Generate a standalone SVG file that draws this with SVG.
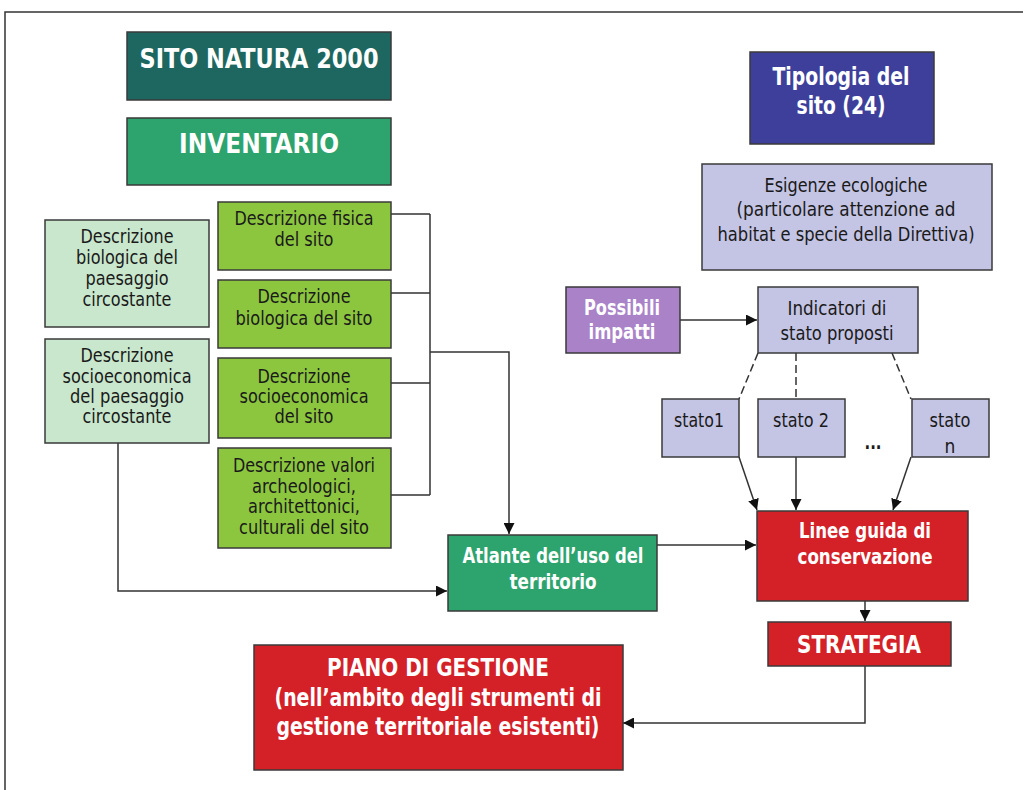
<svg xmlns="http://www.w3.org/2000/svg" width="1023" height="790" viewBox="0 0 1023 790">
<defs>
<style>
.box{stroke:#3a3a3a;stroke-width:1.5}
.t{font-family:"DejaVu Sans Condensed","DejaVu Sans",sans-serif;font-size:19px;fill:#1a1a1a;text-anchor:middle}
.b{font-family:"DejaVu Sans Condensed","DejaVu Sans",sans-serif;font-weight:bold;fill:#ffffff;text-anchor:middle}
.ln{fill:none;stroke:#333333;stroke-width:1.5}
.dash{fill:none;stroke:#333333;stroke-width:1.5;stroke-dasharray:8 4}
</style>
<marker id="arr" viewBox="0 0 10 10" refX="10" refY="5" markerWidth="11" markerHeight="11" markerUnits="userSpaceOnUse" orient="auto">
<path d="M0,0 L10,5 L0,10 z" fill="#111111"/>
</marker>
</defs>
<rect width="1023" height="790" fill="#ffffff"/>
<path d="M5,790 L5,12 L1023,12" fill="none" stroke="#333333" stroke-width="1.5"/>

<g id="connectors">
<path class="ln" d="M391,214 H430 M391,293 H430 M391,383 H430 M391,495 H430 M430,214 V495"/>
<path class="ln" d="M430,352 H509 V534" marker-end="url(#arr)"/>
<path class="ln" d="M118,443 V591 H447" marker-end="url(#arr)"/>
<path class="ln" d="M680,320 H757" marker-end="url(#arr)"/>
<path class="dash" d="M758,353 L739,399"/>
<path class="dash" d="M796,353 V399"/>
<path class="dash" d="M892,353 L911,399"/>
<path class="ln" d="M739,457 L757,510" marker-end="url(#arr)"/>
<path class="ln" d="M796,457 V510" marker-end="url(#arr)"/>
<path class="ln" d="M911,457 L893,510" marker-end="url(#arr)"/>
<path class="ln" d="M657,545 H756" marker-end="url(#arr)"/>
<path class="ln" d="M865,601 V621" marker-end="url(#arr)"/>
<path class="ln" d="M865,666 V723 H623" marker-end="url(#arr)"/>
</g>

<g id="sito">
<rect class="box" x="127" y="32" width="264" height="68" fill="#1d6760"/>
<text class="b" x="259" y="68" font-size="26" textLength="239" lengthAdjust="spacingAndGlyphs">SITO NATURA 2000</text>
</g>
<g id="inventario">
<rect class="box" x="127" y="118" width="264" height="67" fill="#2da36e"/>
<text class="b" x="259" y="153" font-size="26" textLength="160" lengthAdjust="spacingAndGlyphs">INVENTARIO</text>
</g>

<g id="bio-paesaggio">
<rect class="box" x="45" y="220" width="164" height="107" fill="#c9e7cd"/>
<text class="t" x="127" y="243" textLength="93" lengthAdjust="spacingAndGlyphs">Descrizione</text>
<text class="t" x="127" y="264" textLength="102" lengthAdjust="spacingAndGlyphs">biologica del</text>
<text class="t" x="127" y="285" textLength="83" lengthAdjust="spacingAndGlyphs">paesaggio</text>
<text class="t" x="127" y="306" textLength="89" lengthAdjust="spacingAndGlyphs">circostante</text>
</g>
<g id="socio-paesaggio">
<rect class="box" x="45" y="339" width="164" height="104" fill="#c9e7cd"/>
<text class="t" x="127" y="362" textLength="93" lengthAdjust="spacingAndGlyphs">Descrizione</text>
<text class="t" x="127" y="383" textLength="129" lengthAdjust="spacingAndGlyphs">socioeconomica</text>
<text class="t" x="127" y="403" textLength="114" lengthAdjust="spacingAndGlyphs">del paesaggio</text>
<text class="t" x="127" y="423" textLength="89" lengthAdjust="spacingAndGlyphs">circostante</text>
</g>

<g id="fisica">
<rect class="box" x="218" y="202" width="173" height="68" fill="#8cc63f"/>
<text class="t" x="304" y="225" textLength="139" lengthAdjust="spacingAndGlyphs">Descrizione fisica</text>
<text class="t" x="304" y="246" textLength="59" lengthAdjust="spacingAndGlyphs">del sito</text>
</g>
<g id="biologica">
<rect class="box" x="218" y="280" width="173" height="68" fill="#8cc63f"/>
<text class="t" x="304" y="303" textLength="93" lengthAdjust="spacingAndGlyphs">Descrizione</text>
<text class="t" x="304" y="325" textLength="137" lengthAdjust="spacingAndGlyphs">biologica del sito</text>
</g>
<g id="socioeconomica">
<rect class="box" x="218" y="358" width="173" height="80" fill="#8cc63f"/>
<text class="t" x="304" y="383" textLength="93" lengthAdjust="spacingAndGlyphs">Descrizione</text>
<text class="t" x="304" y="403" textLength="129" lengthAdjust="spacingAndGlyphs">socioeconomica</text>
<text class="t" x="304" y="423" textLength="59" lengthAdjust="spacingAndGlyphs">del sito</text>
</g>
<g id="valori">
<rect class="box" x="218" y="448" width="173" height="100" fill="#8cc63f"/>
<text class="t" x="304" y="472" textLength="142" lengthAdjust="spacingAndGlyphs">Descrizione valori</text>
<text class="t" x="304" y="493" textLength="104" lengthAdjust="spacingAndGlyphs">archeologici,</text>
<text class="t" x="304" y="513" textLength="112" lengthAdjust="spacingAndGlyphs">architettonici,</text>
<text class="t" x="304" y="534" textLength="130" lengthAdjust="spacingAndGlyphs">culturali del sito</text>
</g>

<g id="atlante">
<rect class="box" x="448" y="535" width="209" height="76" fill="#2da36e"/>
<text class="b" x="553" y="563" font-size="22" textLength="181" lengthAdjust="spacingAndGlyphs">Atlante dell’uso del</text>
<text class="b" x="553" y="589" font-size="22" textLength="87" lengthAdjust="spacingAndGlyphs">territorio</text>
</g>

<g id="tipologia">
<rect class="box" x="750" y="52" width="184" height="92" fill="#3d3f9b"/>
<text class="b" x="841" y="85" font-size="24" textLength="137" lengthAdjust="spacingAndGlyphs">Tipologia del</text>
<text class="b" x="841" y="114" font-size="24" textLength="89" lengthAdjust="spacingAndGlyphs">sito (24)</text>
</g>
<g id="esigenze">
<rect class="box" x="702" y="164" width="290" height="106" fill="#c4c4e4"/>
<text class="t" x="846" y="192" textLength="163" lengthAdjust="spacingAndGlyphs">Esigenze ecologiche</text>
<text class="t" x="846" y="216" textLength="219" lengthAdjust="spacingAndGlyphs">(particolare attenzione ad</text>
<text class="t" x="846" y="241" textLength="257" lengthAdjust="spacingAndGlyphs">habitat e specie della Direttiva)</text>
</g>

<g id="possibili">
<rect class="box" x="566" y="287" width="114" height="66" fill="#a982c8"/>
<text class="b" x="622" y="315" font-size="22" textLength="76" lengthAdjust="spacingAndGlyphs">Possibili</text>
<text class="b" x="622" y="339" font-size="22" textLength="67" lengthAdjust="spacingAndGlyphs">impatti</text>
</g>
<g id="indicatori">
<rect class="box" x="758" y="287" width="160" height="66" fill="#c4c4e4"/>
<text class="t" x="837" y="315" textLength="99" lengthAdjust="spacingAndGlyphs">Indicatori di</text>
<text class="t" x="837" y="340" textLength="113" lengthAdjust="spacingAndGlyphs">stato proposti</text>
</g>
<g id="stato1">
<rect class="box" x="662" y="399" width="77" height="58" fill="#c4c4e4"/>
<text class="t" x="699" y="427" textLength="50" lengthAdjust="spacingAndGlyphs">stato1</text>
</g>
<g id="stato2">
<rect class="box" x="758" y="399" width="87" height="58" fill="#c4c4e4"/>
<text class="t" x="801" y="427" textLength="56" lengthAdjust="spacingAndGlyphs">stato 2</text>
</g>
<g id="dots">
<text class="t" x="873" y="449" font-weight="bold" textLength="17" lengthAdjust="spacingAndGlyphs">...</text>
</g>
<g id="staton">
<rect class="box" x="912" y="399" width="77" height="58" fill="#c4c4e4"/>
<text class="t" x="950" y="427" textLength="41" lengthAdjust="spacingAndGlyphs">stato</text>
<text class="t" x="950" y="453">n</text>
</g>

<g id="linee">
<rect class="box" x="757" y="511" width="211" height="90" fill="#d42027"/>
<text class="b" x="865" y="538" font-size="22" textLength="132" lengthAdjust="spacingAndGlyphs">Linee guida di</text>
<text class="b" x="865" y="564" font-size="22" textLength="135" lengthAdjust="spacingAndGlyphs">conservazione</text>
</g>
<g id="strategia">
<rect class="box" x="768" y="622" width="183" height="44" fill="#d42027"/>
<text class="b" x="859" y="653" font-size="24" textLength="124" lengthAdjust="spacingAndGlyphs">STRATEGIA</text>
</g>
<g id="piano">
<rect class="box" x="254" y="645" width="369" height="125" fill="#d42027"/>
<text class="b" x="438" y="676" font-size="24" textLength="222" lengthAdjust="spacingAndGlyphs">PIANO DI GESTIONE</text>
<text class="b" x="438" y="706" font-size="24" textLength="327" lengthAdjust="spacingAndGlyphs">(nell’ambito degli strumenti di</text>
<text class="b" x="438" y="735" font-size="24" textLength="323" lengthAdjust="spacingAndGlyphs">gestione territoriale esistenti)</text>
</g>
</svg>
